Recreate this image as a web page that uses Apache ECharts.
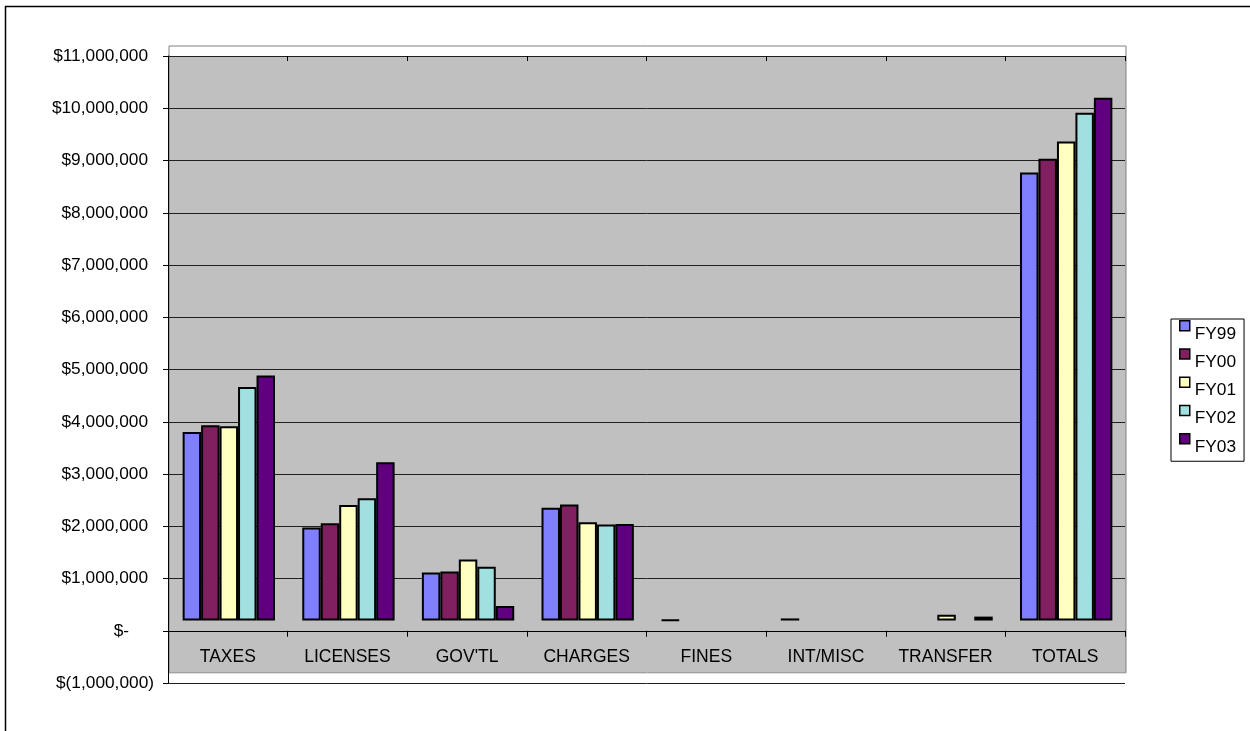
<!DOCTYPE html>
<html>
<head>
<meta charset="utf-8">
<script src="https://cdn.jsdelivr.net/npm/echarts@6/dist/echarts.min.js"></script>
<style>
  html, body { margin: 0; padding: 0; background: #fff; }
  #chart { width: 1250px; height: 731px; }
</style>
</head>
<body>
<div id="chart"></div>
<script>
// Revenue by source, fiscal years 1999-2003
const categories = ['TAXES', 'LICENSES', "GOV'TL", 'CHARGES', 'FINES', 'INT/MISC', 'TRANSFER', 'TOTALS'];
const seriesNames = ['FY99', 'FY00', 'FY01', 'FY02', 'FY03'];
const fy99 = [3610000, 1780000, 920000, 2160000, 15000, 40000, null, 8580000];
const fy00 = [3740000, 1860000, 940000, 2220000, null, null, null, 8840000];
const fy01 = [3720000, 2210000, 1170000, 1880000, null, null, 110000, 9170000];
const fy02 = [4470000, 2340000, 1030000, 1840000, null, null, null, 9720000];
const fy03 = [4690000, 3030000, 280000, 1850000, null, null, 75000, 10010000];
const colors = ['#8080FF', '#802060', '#FFFFC0', '#A0E0E0', '#600080'];
const yMin = -1000000, yMax = 11000000, yStep = 1000000;

const seriesData = [fy99, fy00, fy01, fy02, fy03];
const font = "'Liberation Sans', Arial, sans-serif";

function moneyLabel(v) {
  if (v === 0) return '{z|$-}';
  if (v < 0) return '{n|$(' + Math.abs(v).toLocaleString('en-US') + ')}';
  return '{p|$' + v.toLocaleString('en-US') + '}';
}

const chart = echarts.init(document.getElementById('chart'), null, { renderer: 'canvas' });

const hiddenCat = (gi) => ({ type: 'category', gridIndex: gi, data: categories, show: false });
const hiddenVal = (gi) => ({ type: 'value', gridIndex: gi, min: yMin, max: yMax, interval: yStep, show: false });

chart.setOption({
  animation: false,
  backgroundColor: '#fff',
  color: colors,
  textStyle: { fontFamily: font },
  grid: [
    // gray wall fill
    { left: 169, right: 124, top: 56, bottom: 59, show: true, backgroundColor: '#C0C0C0', borderWidth: 0 },
    // wall outline, holds the columns
    { left: 169, right: 124, top: 46, bottom: 58.25, show: true, backgroundColor: 'transparent', borderColor: '#808080', borderWidth: 1 },
    // visible axes and gridlines
    { left: 168, right: 125, top: 56, bottom: 48 }
  ],
  xAxis: [
    hiddenCat(0),
    hiddenCat(1),
    {
      type: 'category', gridIndex: 2, data: categories,
      axisLine: { onZero: true, lineStyle: { color: '#000', width: 1 } },
      axisTick: { show: true, length: 6, lineStyle: { color: '#000' } },
      axisLabel: { interval: 0, margin: -35, color: '#000', fontSize: 17.5, fontFamily: font },
      splitLine: { show: false }
    },
    {
      type: 'category', gridIndex: 2, data: categories,
      axisLine: { show: false, onZero: true },
      axisTick: { show: true, inside: true, length: 5, lineStyle: { color: '#000' } },
      axisLabel: { show: false },
      splitLine: { show: false }
    }
  ],
  yAxis: [
    hiddenVal(0),
    hiddenVal(1),
    {
      type: 'value', gridIndex: 2, min: yMin, max: yMax, interval: yStep,
      axisLine: { show: true, onZero: false, lineStyle: { color: '#000', width: 1 } },
      axisTick: { show: true, length: 5, lineStyle: { color: '#000' } },
      splitLine: { show: true, lineStyle: { color: '#202020', width: 1 } },
      axisLabel: {
        margin: 14, color: '#000', fontSize: 17, fontFamily: font,
        formatter: moneyLabel,
        rich: {
          p: { fontSize: 17.3, fontFamily: font, color: '#000', padding: [0, 6, 0, 0] },
          z: { fontSize: 17.3, fontFamily: font, color: '#000', padding: [0, 25, 0, 0] },
          n: { fontSize: 17.3, fontFamily: font, color: '#000' }
        }
      }
    }
  ],
  legend: {
    orient: 'vertical',
    left: 1171, top: 319,
    padding: [1, 8, 6, 8],
    itemWidth: 10, itemHeight: 10, itemGap: 6,
    icon: 'rect',
    borderColor: '#000', borderWidth: 1, backgroundColor: '#fff',
    itemStyle: { borderColor: '#000', borderWidth: 1.5 },
    formatter: (name) => '{t|' + name + '}',
    textStyle: {
      fontSize: 17, fontFamily: font, color: '#000',
      rich: { t: { fontSize: 17.3, fontFamily: font, color: '#000', padding: [16, 0, 0, 0] } }
    },
    data: seriesNames
  },
  graphic: [
    { type: 'rect', silent: true, z: -10,
      shape: { x: 5.5, y: 6.5, width: 1400, height: 900 },
      style: { fill: 'none', stroke: '#000', lineWidth: 1.5 } }
  ],
  series: seriesNames.map((name, i) => ({
    name: name,
    type: 'bar',
    xAxisIndex: 1, yAxisIndex: 1,
    data: seriesData[i],
    barGap: '0%',
    barCategoryGap: '22.8%',
    itemStyle: { color: colors[i], borderColor: '#000', borderWidth: 2 }
  }))
});
</script>
</body>
</html>
